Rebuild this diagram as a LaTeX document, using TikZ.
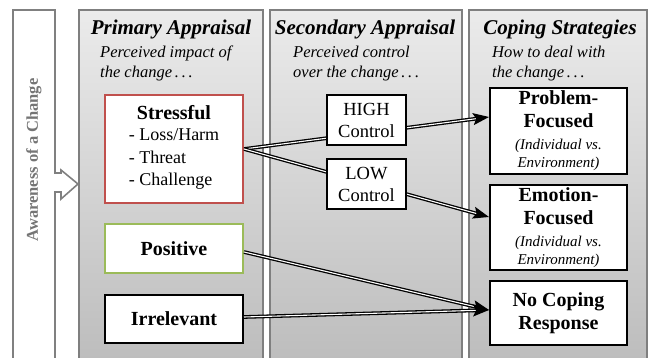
\documentclass[tikz,border=0pt]{standalone}
\usepackage{fontspec}
\setmainfont{Liberation Serif}
\usetikzlibrary{arrows.meta,calc}
\definecolor{panelborder}{HTML}{7F7F7F}
\definecolor{paneltop}{HTML}{EBEBEB}
\definecolor{panelbot}{HTML}{BBBBBB}
\definecolor{stressred}{HTML}{C0504D}
\definecolor{posgreen}{HTML}{9BBB59}
\definecolor{awaregray}{HTML}{808080}
\definecolor{awaretext}{HTML}{757575}
\newcommand\bigb[1]{{\fontsize{20}{23}\selectfont\bfseries #1}}
\newcommand\smit[1]{{\fontsize{15}{18}\selectfont\itshape #1}}
\newcommand\itemtxt[1]{{\fontsize{18}{22.5}\selectfont #1}}
\begin{document}
\begin{tikzpicture}[x=1pt,y=-1pt,
  panel/.style={draw=panelborder, line width=1.3pt, top color=paneltop, bottom color=panelbot},
  title/.style={font=\fontsize{21}{24}\selectfont\bfseries\itshape, anchor=base},
  subtitle/.style={font=\fontsize{16.5}{20}\selectfont\itshape, anchor=base west, inner sep=0pt},
  box/.style={draw=#1, line width=2pt, fill=white, inner sep=0pt, align=center},
  box/.default=black,
  lbl/.style={font=\fontsize{20}{23}\selectfont\bfseries},
  ctrl/.style={font=\fontsize{18.5}{22}\selectfont},
  flow/.style={draw=black, line width=1.3pt, double=white, double distance=1.1pt,
    -{Stealth[length=16pt,width=12pt,inset=3pt]}}
]
\useasboundingbox (0,0) rectangle (649,358);
\clip (0,0) rectangle (649,358);

% awareness bar with block arrow
\draw[draw=awaregray, line width=1.6pt, fill=white]
  (13,375) -- (13,10) -- (55,10) -- (55,173) -- (61,173) -- (61,170) -- (78,184)
  -- (61,199) -- (61,192) -- (55,192) -- (55,375) -- cycle;
\node[rotate=90, text=awaretext, font=\fontsize{16.5}{19}\selectfont\bfseries] (aware) at (34,160) {Awareness of a Change};

% panels
\draw[panel] (79,10) rectangle (263,375);
\draw[panel] (270,10) rectangle (462,375);
\draw[panel] (469,10) rectangle (647,375);

% titles
\node[title] (t1) at (171,35) {Primary Appraisal};
\node[title] (t2) at (365,35) {Secondary Appraisal};
\node[title] (t3) at (560,35) {Coping Strategies};

\node[subtitle] (s1a) at (100,58) {Perceived impact of};
\node[subtitle] (s1b) at (100,78) {the change\,.\,.\,.};
\node[subtitle] (s2a) at (293,58) {Perceived control};
\node[subtitle] (s2b) at (293,78) {over the change\,.\,.\,.};
\node[subtitle] (s3a) at (492,58) {How to deal with};
\node[subtitle] (s3b) at (492,78) {the change\,.\,.\,.};

% primary appraisal boxes
\node[box=stressred, minimum width=138pt, minimum height=108pt, font=\fontsize{20}{23}\selectfont] (stressful) at (174,149)
  {\bigb{Stressful}\\[4pt]
   \itemtxt{\begin{tabular}{@{}l@{}}- Loss/Harm\\ - Threat\\ - Challenge\end{tabular}}};
\node[box=posgreen, minimum width=138pt, minimum height=49pt, lbl] (positive) at (174,248.5) {Positive};
\node[box, minimum width=138pt, minimum height=48pt, lbl] (irrelevant) at (174,319) {Irrelevant};

% coping boxes
\node[box, minimum width=137pt, minimum height=86pt, font=\fontsize{20}{23}\selectfont] (problem) at (558.5,131)
  {\bigb{Problem-}\\\bigb{Focused}\\[-1pt]\smit{(Individual vs.}\\[-5pt]\smit{Environment)}};
\node[box, minimum width=137pt, minimum height=85pt, font=\fontsize{20}{23}\selectfont] (emotion) at (558.5,227.5)
  {\bigb{Emotion-}\\\bigb{Focused}\\[-1pt]\smit{(Individual vs.}\\[-5pt]\smit{Environment)}};
\node[box, minimum width=137pt, minimum height=64pt, lbl] (nocoping) at (558.5,313) {No Coping\\Response};

% connectors
\draw[flow] (stressful.east) -- ([yshift=14pt]problem.west);
\draw[flow] (stressful.east) -- ([yshift=10.5pt]emotion.west);
\draw[flow] ([yshift=-3.5pt]positive.east) -- ([yshift=3pt]nocoping.west);
\draw[flow] ([yshift=2pt]irrelevant.east) -- ([yshift=3pt]nocoping.west);

% secondary appraisal boxes (on top of the connectors)
\node[box, minimum width=79pt, minimum height=50pt, ctrl] (high) at (366.5,120) {HIGH\\Control};
\node[box, minimum width=79pt, minimum height=50pt, ctrl] (low) at (366.5,184) {LOW\\Control};
\end{tikzpicture}
\end{document}
